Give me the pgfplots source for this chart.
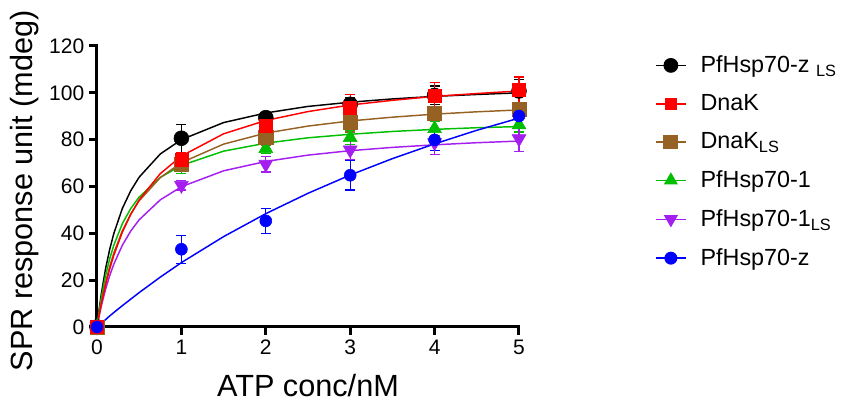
\documentclass[border=0pt]{standalone}
\usepackage{fontspec}
\setmainfont{Liberation Sans}
\usepackage{pgfplots}
\usepackage{pgfplotstable}
\pgfplotsset{compat=1.18}

\definecolor{cbrown}{RGB}{150,98,35}
\definecolor{cgreen}{RGB}{0,190,0}
\definecolor{cpurple}{RGB}{165,30,240}

% measured points: x, mean, error
\pgfplotstableread{
x y e
0 0 0
1 80.6 6
2 89.4 2
3 95.1 3
4 98.9 4
5 100.8 5
}\dataBlack
\pgfplotstableread{
x y e
0 0 0
1 71.6 3
2 86.1 3
3 93.7 5.5
4 98.6 5.7
5 101.2 5.5
}\dataRed
\pgfplotstableread{
x y e
0 0 0
1 69.5 3
2 80.9 3.5
3 87.3 4
4 91.3 3
5 93.0 3
}\dataBrown
\pgfplotstableread{
x y e
0 0 0
1 68.5 3
2 76.2 2
3 80.9 3
4 84.7 3
5 86.3 3
}\dataGreen
\pgfplotstableread{
x y e
0 0 0
1 60.5 2
2 69.5 3.3
3 75.6 4
4 78.7 5
5 80.4 5.5
}\dataPurple
\pgfplotstableread{
x y e
0 0 0
1 33.2 6
2 45.3 5.3
3 64.8 6.3
4 79.9 4.5
5 90.1 4
}\dataBlue

% fitted curves
\pgfplotstableread{
x k r b g p u
0 0 0 0 0 0 0
0.02 6.1 4.1 4.4 5.4 3.7 0.6
0.05 13.9 9.7 10.4 12.3 8.8 1.6
0.1 24.6 17.8 18.8 21.7 15.9 3.1
0.15 33.1 24.7 25.8 29.1 21.9 4.7
0.2 40.0 30.7 31.7 35.0 26.9 6.2
0.3 50.6 40.5 41.1 44.1 34.9 9.1
0.4 58.2 48.1 48.3 50.6 41.0 11.9
0.5 64.0 54.3 53.9 55.5 45.8 14.7
0.75 73.9 65.5 63.8 63.9 54.3 21.3
1 80.0 73.0 70.2 69.0 59.9 27.5
1.5 87.3 82.5 78.1 75.1 66.7 38.6
2 91.4 88.2 82.8 78.5 70.7 48.4
2.5 94.2 92.0 85.8 80.8 73.4 57.1
3 96.0 94.8 88.0 82.3 75.3 64.9
3.5 97.4 96.8 89.6 83.5 76.7 71.9
4 98.5 98.5 90.9 84.4 77.8 78.2
4.5 99.3 99.7 91.9 85.1 78.7 84.0
5 100.0 100.8 92.7 85.6 79.4 89.2
}\fits

\pgfplotsset{
  pts/.style={only marks, forget plot, mark options={draw=#1, fill=#1},
    error bars/.cd, y dir=both, y explicit,
    error bar style={line width=1pt, #1},
    error mark=-,
    error mark options={rotate=90, line width=1pt, mark size=3.75pt, #1},
    /pgfplots/.cd},
  fit/.style={no marks, forget plot, line width=1.1pt, #1},
}

\begin{document}
\begin{tikzpicture}
\begin{axis}[
    at={(0,0)}, anchor=origin,
    scale only axis,
    width=316.5pt, height=210.75pt,
    xmin=0, xmax=5, ymin=0, ymax=120,
    xtick={0,...,5}, ytick={0,20,...,120},
    axis lines*=left,
    axis line style={line width=2.25pt, line cap=rect},
    tick style={line width=2.25pt, black},
    tick align=outside,
    major tick length=6pt,
    clip=false,
    /pgf/number format/assume math mode=true,
    tick label style={font=\fontsize{15.75}{18}\selectfont},
    xlabel={ATP conc/nM},
    ylabel={SPR response unit (mdeg)},
    label style={font=\fontsize{23}{27}\selectfont},
    xlabel style={at={(axis description cs:0.5,-0.249)}, anchor=base},
    ylabel style={at={(axis description cs:-0.154,0.485)}, anchor=base},
    legend style={draw=none, fill=none, at={(axis description cs:1.322,0.975)},
      anchor=north west, inner xsep=0pt, inner ysep=0pt,
      font=\fontsize{17.5}{20}\selectfont, row sep=11pt,
      nodes={inner xsep=2pt}},
    legend cell align=left,
    legend image code/.code={\draw[mark repeat=2,mark phase=2]
      plot coordinates {(0pt,0pt)(11.25pt,0pt)(22.5pt,0pt)};
      \path (31pt,0pt);},
]
\addlegendimage{black, line width=1.1pt, mark=*, mark size=5pt}
\addlegendentry{PfHsp70-z \textsubscript{LS}}
\addlegendimage{red, line width=1.1pt, mark=square*, mark size=4.2pt}
\addlegendentry{DnaK}
\addlegendimage{cbrown, line width=1.1pt, mark=square*, mark size=5pt}
\addlegendentry{DnaK\textsubscript{LS}}
\addlegendimage{cgreen, line width=1.1pt, mark=triangle*, mark size=5pt}
\addlegendentry{PfHsp70-1}
\addlegendimage{cpurple, line width=1.1pt, mark=triangle*, mark size=5pt, mark options={rotate=180}}
\addlegendentry{PfHsp70-1\textsubscript{LS}}
\addlegendimage{blue, line width=1.1pt, mark=*, mark size=4.3pt}
\addlegendentry{PfHsp70-z}

\addplot[fit=black] table[x=x, y=k] {\fits};
\addplot[fit=cgreen] table[x=x, y=g] {\fits};
\addplot[fit=cpurple] table[x=x, y=p] {\fits};
\addplot[fit=cbrown] table[x=x, y=b] {\fits};
\addplot[fit=red] table[x=x, y=r] {\fits};
\addplot[fit=blue] table[x=x, y=u] {\fits};

\addplot[pts=black, mark=*, mark size=5.6pt] table[x=x, y=y, y error=e] {\dataBlack};
\addplot[pts=cgreen, mark=triangle*, mark size=6pt] table[x=x, y=y, y error=e] {\dataGreen};
\addplot[pts=cpurple, mark=triangle*, mark size=6pt, mark options={draw=cpurple, fill=cpurple, rotate=180}] table[x=x, y=y, y error=e] {\dataPurple};
\addplot[pts=cbrown, mark=square*, mark size=5.3pt] table[x=x, y=y, y error=e] {\dataBrown};
\addplot[pts=red, mark=square*, mark size=4.9pt] table[x=x, y=y, y error=e] {\dataRed};
\addplot[pts=blue, mark=*, mark size=4.5pt] table[x=x, y=y, y error=e] {\dataBlue};
\end{axis}
\pgfresetboundingbox
\path[use as bounding box] (-72.75pt,-57pt) rectangle (559.5pt,245.25pt);
\end{tikzpicture}
\end{document}
